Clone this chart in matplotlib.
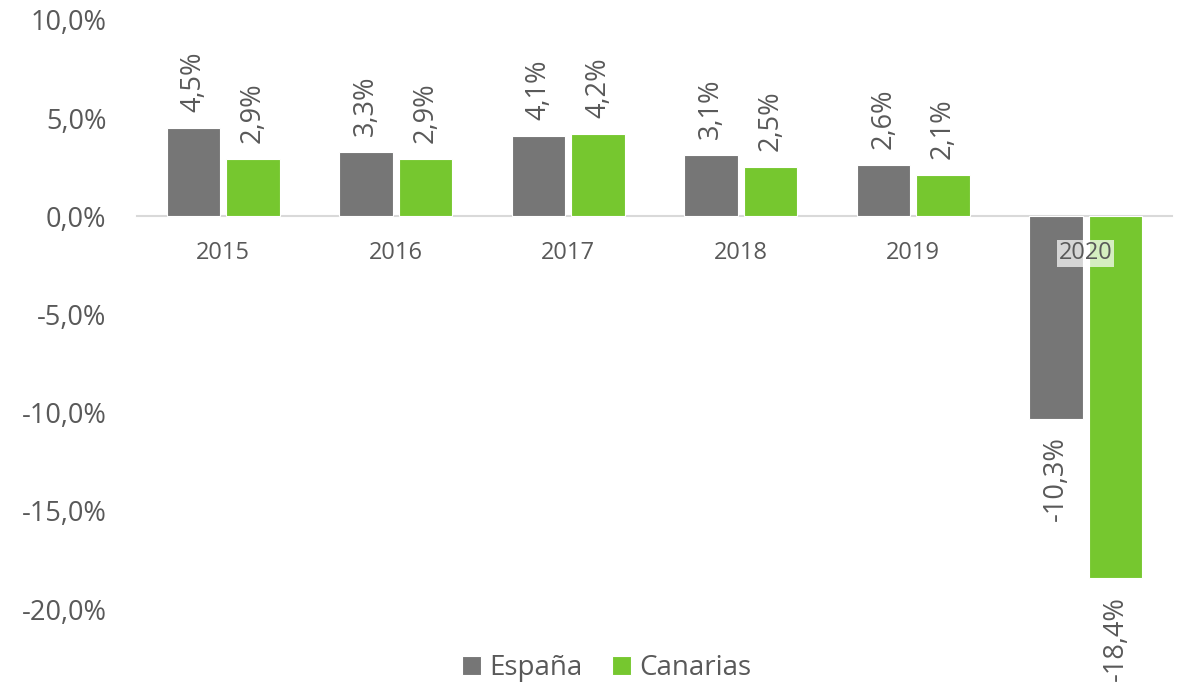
import matplotlib
matplotlib.use("Agg")
import matplotlib.pyplot as plt
from matplotlib.ticker import FuncFormatter, FixedLocator
import numpy as np

years = ["2015", "2016", "2017", "2018", "2019", "2020"]
espana = [4.5, 3.3, 4.1, 3.1, 2.6, -10.3]
canarias = [2.9, 2.9, 4.2, 2.5, 2.1, -18.4]
series_names = ["España", "Canarias"]
yticks = [10, 5, 0, -5, -10, -15, -20]

GREY = "#767676"
GREEN = "#76C72F"
TXT = "#595959"

plt.rcParams['font.family'] = ['Open Sans', 'DejaVu Sans']

fig = plt.figure(figsize=(11.79, 6.84), dpi=100)
ax = fig.add_axes([137/1179, 1 - 609/684, (1172-137)/1179, (609-20)/684])

x = np.arange(len(years))
w = 0.31
off = 0.1725
b1 = ax.bar(x - off, espana, w, color=GREY, edgecolor="white", linewidth=0.8, label=series_names[0], zorder=2)
b2 = ax.bar(x + off, canarias, w, color=GREEN, edgecolor="white", linewidth=0.8, label=series_names[1], zorder=2)

ax.set_xlim(-0.5, len(years) - 0.5)
ax.set_ylim(-20, 10)

fs = 19.5
def pct(v):
    return f"{v:.1f}".replace(".", ",") + "%"

for bars, vals in ((b1, espana), (b2, canarias)):
    for rect, v in zip(bars, vals):
        cx = rect.get_x() + rect.get_width() / 2
        if v >= 0:
            ax.annotate(pct(v), (cx, v), xytext=(0, 11.5), textcoords="offset points",
                        rotation=90, ha="center", va="bottom", fontsize=fs, color=TXT,
                        annotation_clip=False)
        else:
            ax.annotate(pct(v), (cx, v), xytext=(0, -13), textcoords="offset points",
                        rotation=90, ha="center", va="top", fontsize=fs, color=TXT,
                        annotation_clip=False)

for s in ("top", "right", "left"):
    ax.spines[s].set_visible(False)
ax.spines["bottom"].set_position(("data", 0))
ax.spines["bottom"].set_color("#D9D9D9")
ax.spines["bottom"].set_linewidth(1.5)
ax.spines["bottom"].set_zorder(1)

ax.set_xticks(x)
ax.set_xticklabels(years)
ax.tick_params(axis="x", length=0, pad=18, labelsize=17, labelcolor=TXT)
ax.yaxis.set_major_locator(FixedLocator(yticks))
ax.yaxis.set_major_formatter(FuncFormatter(lambda v, p: pct(v)))
ax.tick_params(axis="y", length=0, pad=22, labelsize=fs, labelcolor=TXT)
ax.xaxis.set_zorder(5)

ax.get_xticklabels()[-1].set_bbox(dict(facecolor="white", alpha=0.7, edgecolor="none", pad=1))

fig.legend(loc="center", bbox_to_anchor=(606.5/1179, 1 - 668/684), ncol=2, frameon=False,
           fontsize=20, labelcolor=TXT, handlelength=0.68, handleheight=0.68,
           handletextpad=0.3, columnspacing=1.05)

fig.savefig("out.png", dpi=100)
